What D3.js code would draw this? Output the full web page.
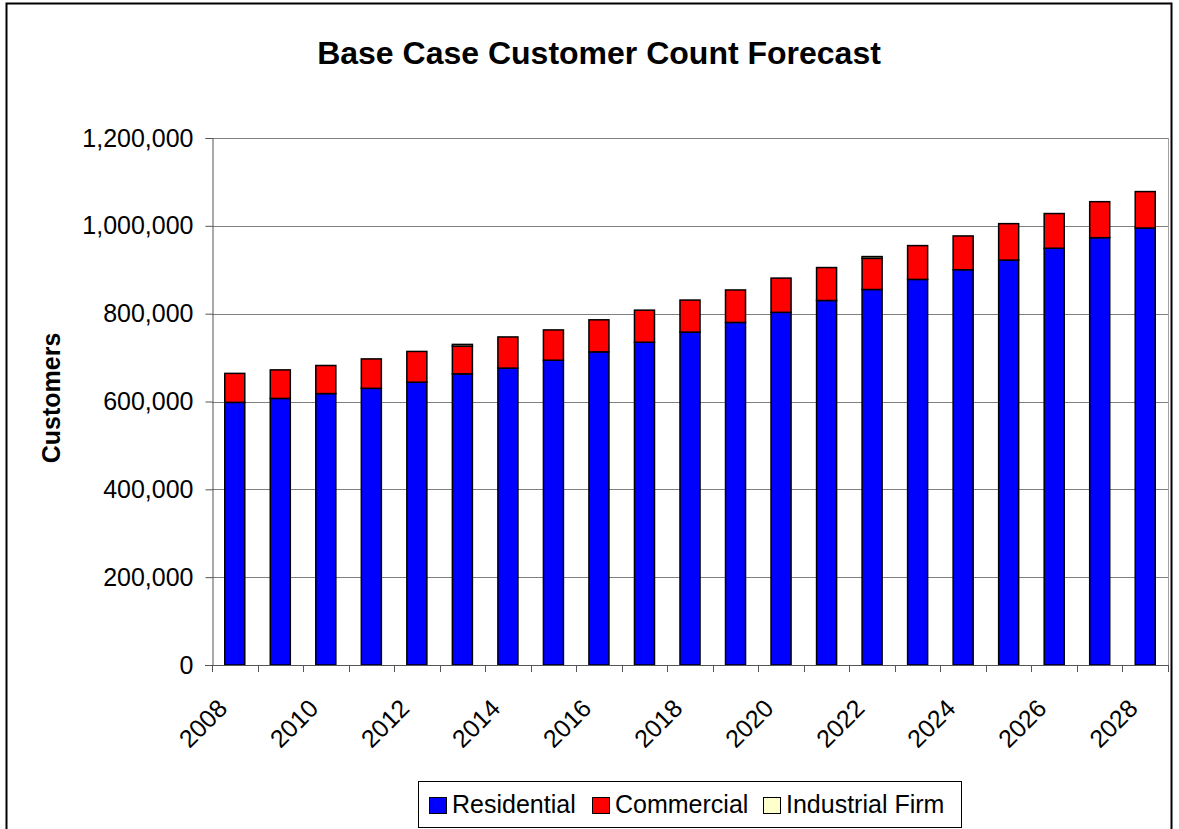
<!DOCTYPE html>
<html>
<head>
<meta charset="utf-8">
<script src="https://cdn.jsdelivr.net/npm/d3@7"></script>
<style>
  html, body { margin: 0; padding: 0; background: #fff; }
  svg { display: block; font-family: "Liberation Sans", Arial, sans-serif; }
</style>
</head>
<body>
<svg id="chart" width="1179" height="829"></svg>
<script>
// Customer count forecast by class, 2008-2028
const years = [2008, 2009, 2010, 2011, 2012, 2013, 2014, 2015, 2016, 2017, 2018,
               2019, 2020, 2021, 2022, 2023, 2024, 2025, 2026, 2027, 2028];
const residential = [598000, 607000, 618000, 630000, 644000, 663000, 676000, 694000, 713000, 735000, 758000,
                     780000, 803000, 830000, 855000, 878000, 900000, 922000, 949000, 973000, 995000];
const commercial = [66000, 65000, 64000, 67000, 70000, 63000, 71000, 69000, 73000, 73000, 73000,
                    74000, 78000, 75000, 71000, 77000, 77000, 83000, 79000, 82000, 83000];
const industrialFirm = [0, 0, 0, 0, 0, 4000, 0, 0, 0, 0, 0,
                        0, 0, 0, 4000, 0, 0, 0, 0, 0, 0];
const seriesNames = ["Residential", "Commercial", "Industrial Firm"];
const seriesColors = ["#0000ff", "#ff0000", "#ffffcc"];
const yTicks = [0, 200000, 400000, 600000, 800000, 1000000, 1200000];
const xLabelYears = [2008, 2010, 2012, 2014, 2016, 2018, 2020, 2022, 2024, 2026, 2028];

const svg = d3.select("#chart");

// outer chart frame
svg.append("rect")
  .attr("x", 6.5).attr("y", 3.5).attr("width", 1165).attr("height", 840)
  .attr("fill", "#fff").attr("stroke", "#000").attr("stroke-width", 2);

const plot = { left: 212, right: 1168, top: 138, bottom: 665 };

const x = d3.scaleBand().domain(years).range([plot.left, plot.right])
  .paddingInner(0.56).paddingOuter(0.28);
const xCat = d3.scaleBand().domain(years).range([plot.left, plot.right]).padding(0);
const y = d3.scaleLinear().domain([0, 1200000]).range([plot.bottom, plot.top]);

// gridlines
svg.append("g").selectAll("line").data(yTicks.filter(d => d > 0)).join("line")
  .attr("x1", plot.left).attr("x2", plot.right)
  .attr("y1", d => Math.round(y(d)) + 0.5).attr("y2", d => Math.round(y(d)) + 0.5)
  .attr("stroke", "#808080").attr("stroke-width", 1);

// right edge of plot area
svg.append("line")
  .attr("x1", plot.right + 0.5).attr("x2", plot.right + 0.5)
  .attr("y1", plot.top).attr("y2", plot.bottom)
  .attr("stroke", "#a0a0a0").attr("stroke-width", 1);

// stacked bars
const table = years.map((yr, i) => ({
  year: yr,
  "Residential": residential[i],
  "Commercial": commercial[i],
  "Industrial Firm": industrialFirm[i]
}));
const stacked = d3.stack().keys(seriesNames)(table);

svg.append("g").selectAll("g").data(stacked).join("g")
  .attr("fill", (d, i) => seriesColors[i])
  .selectAll("rect").data(d => d.filter(s => s[1] - s[0] > 0)).join("rect")
  .attr("x", d => x(d.data.year))
  .attr("width", x.bandwidth())
  .attr("y", d => y(d[1]))
  .attr("height", d => y(d[0]) - y(d[1]))
  .attr("stroke", "#000").attr("stroke-width", 1.5);

// y axis
const yAxis = svg.append("g")
  .attr("transform", `translate(${plot.left + 0.5},0)`)
  .call(d3.axisLeft(y).tickValues(yTicks).tickFormat(d3.format(",")).tickSize(7).tickPadding(12));
yAxis.select(".domain").attr("stroke", "#555");
yAxis.selectAll(".tick line").attr("stroke", "#555");
yAxis.selectAll(".tick text").attr("font-size", 25).attr("fill", "#000")
  .attr("font-family", "'Liberation Sans', Arial, sans-serif");

// x axis line with ticks at category boundaries
const xg = svg.append("g");
xg.append("line")
  .attr("x1", plot.left - 7).attr("x2", plot.right + 1)
  .attr("y1", plot.bottom + 0.5).attr("y2", plot.bottom + 0.5)
  .attr("stroke", "#555");
const bounds = years.map(yr => xCat(yr)).concat([plot.right]);
xg.selectAll("line.tk").data(bounds).join("line").attr("class", "tk")
  .attr("x1", d => Math.round(d) + 0.5).attr("x2", d => Math.round(d) + 0.5)
  .attr("y1", plot.bottom).attr("y2", plot.bottom + 7)
  .attr("stroke", "#555");

// rotated year labels
xg.selectAll("text").data(xLabelYears).join("text")
  .attr("transform", d => `translate(${xCat(d) + xCat.bandwidth() / 2 - 6},${plot.bottom + 45}) rotate(-45)`)
  .attr("text-anchor", "end")
  .attr("font-size", 25)
  .text(d => d);

// title
svg.append("text")
  .attr("x", 599).attr("y", 64)
  .attr("text-anchor", "middle")
  .attr("font-size", 32).attr("font-weight", "bold")
  .text("Base Case Customer Count Forecast");

// y axis title
svg.append("text")
  .attr("transform", `translate(60,398) rotate(-90)`)
  .attr("text-anchor", "middle")
  .attr("font-size", 25).attr("font-weight", "bold")
  .text("Customers");

// legend
const legend = svg.append("g");
legend.append("rect")
  .attr("x", 418.5).attr("y", 781.5).attr("width", 543).attr("height", 46)
  .attr("fill", "#fff").attr("stroke", "#000").attr("stroke-width", 1);
const legendX = [429, 592, 763];
const items = legend.selectAll("g").data(seriesNames).join("g")
  .attr("transform", (d, i) => `translate(${legendX[i]},0)`);
items.append("rect")
  .attr("x", 0.5).attr("y", 797.5).attr("width", 17).attr("height", 16)
  .attr("fill", (d, i) => seriesColors[i]).attr("stroke", "#000").attr("stroke-width", 1);
items.append("text")
  .attr("x", 23).attr("y", 813)
  .attr("font-size", 25)
  .text(d => d);
</script>
</body>
</html>
